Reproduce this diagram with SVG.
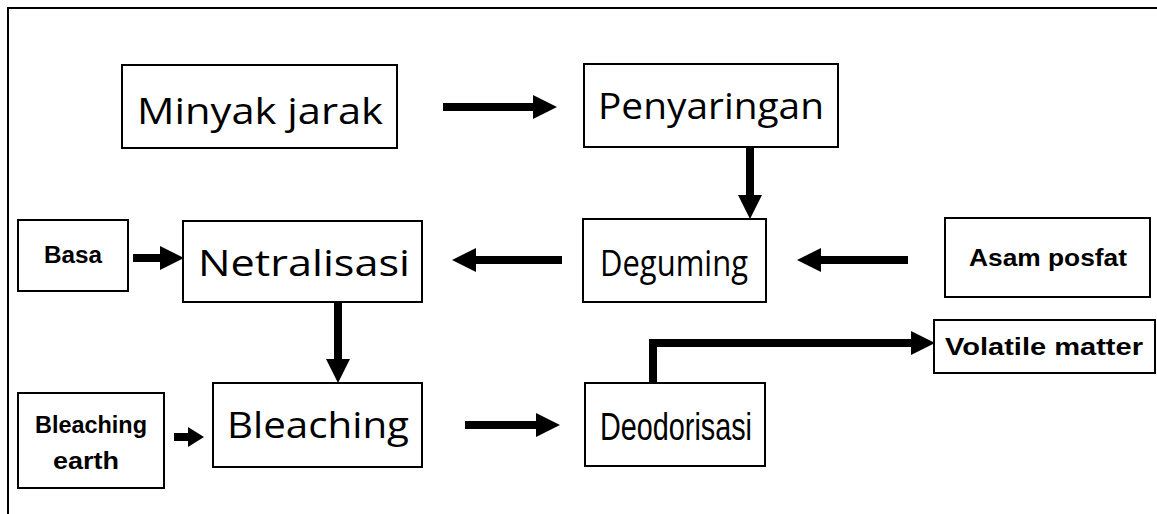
<svg xmlns="http://www.w3.org/2000/svg" width="1157" height="514" viewBox="0 0 1157 514">
  <style>
    .box { fill: #ffffff; stroke: #000000; stroke-width: 2; }
    .main { font-family: "Open Sans", "DejaVu Sans", sans-serif; font-size: 37px; fill: #000; text-anchor: middle; }
    .cond { font-family: "Liberation Sans", sans-serif; font-size: 38px; fill: #000; text-anchor: middle; }
    .side { font-family: "Liberation Sans", "DejaVu Sans", sans-serif; font-size: 23px; font-weight: bold; fill: #000; text-anchor: middle; }
    .flow { fill: none; stroke: #000; stroke-width: 8; stroke-linejoin: miter; }
  </style>
  <defs>
    <marker id="head" markerUnits="userSpaceOnUse" markerWidth="24" markerHeight="24" refX="0" refY="12" orient="auto" overflow="visible">
      <path d="M0,0 L24,12 L0,24 Z" fill="#000"/>
    </marker>
    <marker id="headSmall" markerUnits="userSpaceOnUse" markerWidth="16" markerHeight="20" refX="0" refY="10" orient="auto" overflow="visible">
      <path d="M0,0 L16,10 L0,20 Z" fill="#000"/>
    </marker>
  </defs>

  <rect width="1157" height="514" fill="#ffffff"/>
  <!-- page frame -->
  <path d="M8,514 V8 H1157" fill="none" stroke="#000" stroke-width="2"/>

  <g id="minyak-jarak">
    <rect class="box" x="122" y="65" width="275" height="83"/>
    <text class="main" x="260" y="124" textLength="246" lengthAdjust="spacingAndGlyphs">Minyak jarak</text>
  </g>
  <g id="penyaringan">
    <rect class="box" x="584" y="64" width="254" height="83"/>
    <text class="main" x="711" y="119" textLength="226" lengthAdjust="spacingAndGlyphs">Penyaringan</text>
  </g>
  <g id="deguming">
    <rect class="box" x="583" y="219" width="183" height="83"/>
    <text class="main" x="674" y="276" textLength="148" lengthAdjust="spacingAndGlyphs">Deguming</text>
  </g>
  <g id="asam-posfat">
    <rect class="box" x="945" y="218" width="205" height="79"/>
    <text class="side" x="1048" y="266" textLength="158" lengthAdjust="spacingAndGlyphs">Asam posfat</text>
  </g>
  <g id="netralisasi">
    <rect class="box" x="183" y="221" width="239" height="81"/>
    <text class="main" x="304" y="276" textLength="212" lengthAdjust="spacingAndGlyphs">Netralisasi</text>
  </g>
  <g id="basa">
    <rect class="box" x="18" y="220" width="110" height="71"/>
    <text class="side" x="73" y="263" textLength="58" lengthAdjust="spacingAndGlyphs">Basa</text>
  </g>
  <g id="bleaching">
    <rect class="box" x="213" y="383" width="209" height="84"/>
    <text class="main" x="318" y="438" textLength="182" lengthAdjust="spacingAndGlyphs">Bleaching</text>
  </g>
  <g id="bleaching-earth">
    <rect class="box" x="18" y="393" width="146" height="95"/>
    <text class="side" x="91" y="433" textLength="112" lengthAdjust="spacingAndGlyphs">Bleaching</text>
    <text class="side" x="86" y="469" textLength="66" lengthAdjust="spacingAndGlyphs">earth</text>
  </g>
  <g id="deodorisasi">
    <rect class="box" x="585" y="383" width="180" height="83"/>
    <text class="cond" x="676" y="440" textLength="152" lengthAdjust="spacingAndGlyphs">Deodorisasi</text>
  </g>
  <g id="volatile-matter">
    <rect class="box" x="934" y="320" width="221" height="53"/>
    <text class="side" x="1044" y="355" font-size="25" textLength="198" lengthAdjust="spacingAndGlyphs">Volatile matter</text>
  </g>

  <g id="connectors">
    <line class="flow" x1="443" y1="107" x2="533" y2="107" marker-end="url(#head)"/>
    <line class="flow" x1="750" y1="147" x2="750" y2="195" marker-end="url(#head)"/>
    <line class="flow" x1="908" y1="260" x2="821" y2="260" marker-end="url(#head)"/>
    <line class="flow" x1="562" y1="260" x2="476" y2="260" marker-end="url(#head)"/>
    <line class="flow" x1="133" y1="258" x2="160" y2="258" marker-end="url(#head)"/>
    <line class="flow" x1="338" y1="302" x2="338" y2="359" marker-end="url(#head)"/>
    <line class="flow" x1="174" y1="437" x2="188" y2="437" marker-end="url(#headSmall)"/>
    <line class="flow" x1="465" y1="425" x2="536" y2="425" marker-end="url(#head)"/>
    <path class="flow" d="M653,383 V343 H911" marker-end="url(#head)"/>
  </g>
</svg>
